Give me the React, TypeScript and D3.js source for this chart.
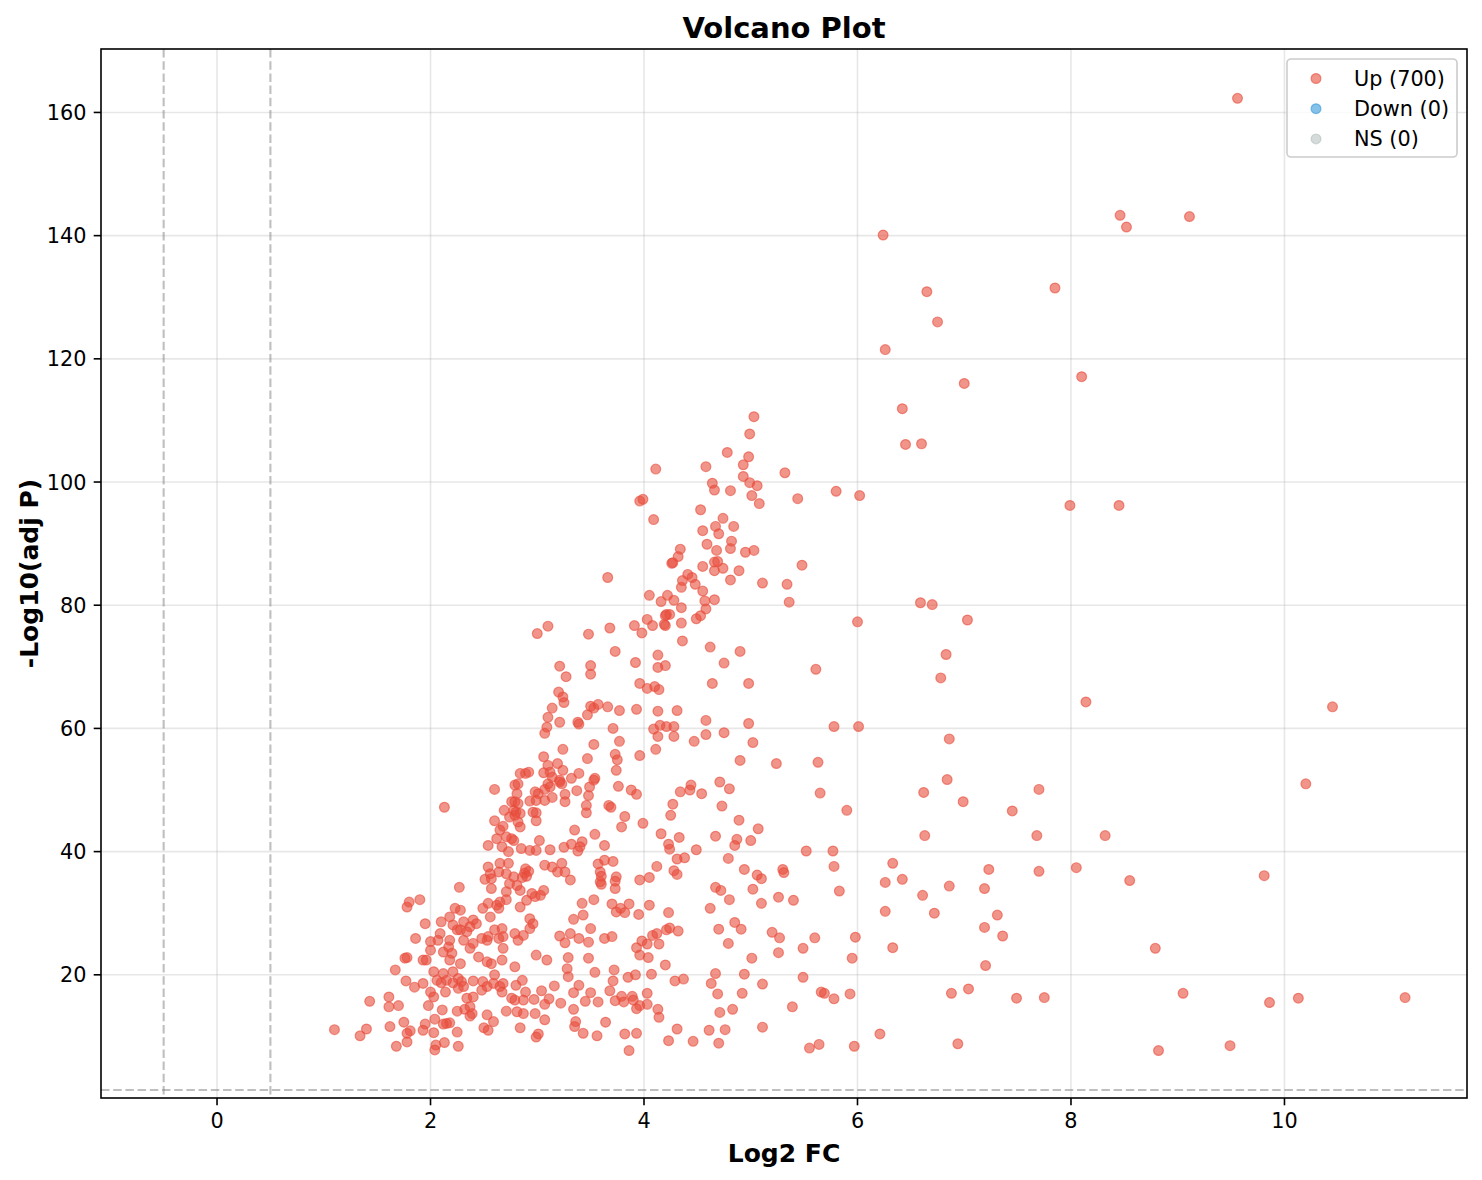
import React, { useMemo } from "react";
import * as d3 from "d3";

// [log2FC, -log10(adj p)], grouped by region
const outerUp: [number, number][] = [
  [9.56, 162.3], [8.46, 143.3], [8.52, 141.4], [9.11, 143.1], [6.24, 140.1],
  [6.65, 130.9], [7.85, 131.5], [6.75, 126.0], [6.26, 121.5], [8.1, 117.1],
  [7.0, 116.0], [6.42, 111.9], [6.45, 106.1], [6.6, 106.2], [6.02, 97.8],
  [5.8, 98.5], [7.99, 96.2], [8.45, 96.2],
  [6.59, 80.4], [6.7, 80.1], [7.03, 77.6], [6.0, 77.3], [6.83, 72.0],
  [6.78, 68.2], [6.01, 60.3], [6.86, 58.3], [6.84, 51.7], [6.62, 49.6],
  [6.99, 48.1], [7.45, 46.6], [5.9, 46.7], [7.7, 50.1], [6.63, 42.6],
  [7.68, 42.6], [6.33, 38.1], [6.26, 35.0], [6.42, 35.5], [6.61, 32.9],
  [6.86, 34.4], [7.23, 37.1], [7.19, 34.0], [7.7, 36.8], [6.26, 30.3],
  [6.72, 30.0], [7.31, 29.7], [7.19, 27.7], [7.36, 26.3], [5.98, 26.1],
  [6.33, 24.4], [5.95, 22.7], [7.2, 21.5], [5.93, 16.9], [6.88, 17.0],
  [7.04, 17.7], [7.49, 16.2], [6.21, 10.4], [5.97, 8.4], [6.94, 8.8],
  [8.14, 64.3], [10.45, 63.5], [10.2, 51.0], [8.32, 42.6], [8.05, 37.4],
  [8.55, 35.3], [9.81, 36.1], [8.79, 24.3], [7.75, 16.3], [9.05, 17.0],
  [9.86, 15.5], [10.13, 16.2], [11.13, 16.3], [8.82, 7.7], [9.49, 8.5],
  [5.61, 69.6], [5.63, 54.5], [5.65, 49.5], [5.78, 60.3],
];

const upperCluster: [number, number][] = [
  [5.03, 110.6], [4.99, 107.8], [4.78, 104.8], [4.98, 104.1], [4.93, 102.8],
  [4.11, 102.1], [4.58, 102.5], [5.32, 101.5], [4.93, 100.9], [4.99, 99.9],
  [5.06, 99.4], [4.64, 99.8], [4.66, 98.7], [4.81, 98.6], [3.96, 96.9],
  [3.99, 97.2], [5.01, 97.8], [5.08, 96.5], [5.44, 97.3], [4.53, 95.5],
  [4.09, 93.9], [4.74, 94.1], [4.84, 92.8], [4.67, 92.8], [4.7, 91.6],
  [4.55, 92.1], [4.82, 90.4], [4.81, 89.2], [4.59, 89.9], [4.68, 88.9],
  [4.95, 88.6], [5.03, 88.9], [4.34, 89.1], [4.32, 87.9], [4.26, 86.8],
  [4.27, 86.9], [4.55, 86.3], [4.66, 87.0], [4.69, 87.1], [4.66, 85.6],
  [4.74, 86.0], [4.89, 85.6], [4.81, 84.1], [5.11, 83.6], [5.34, 83.4],
  [5.48, 86.5], [4.41, 85.0], [4.45, 84.5], [4.36, 84.0], [4.48, 83.4],
  [4.35, 82.9], [4.55, 82.3], [4.05, 81.6], [4.22, 81.6], [4.16, 80.6],
  [4.28, 80.8], [4.57, 80.7], [4.66, 80.9], [5.36, 80.5], [4.35, 79.6],
  [4.58, 79.4], [3.66, 84.5],
  [4.21, 78.5], [4.24, 78.5], [4.2, 78.3], [4.19, 76.9], [4.2, 76.7],
  [4.03, 77.7], [4.08, 76.7], [4.35, 77.1], [4.49, 77.8], [4.53, 78.3],
  [4.36, 74.2], [3.91, 76.7], [3.98, 75.5], [3.68, 76.3], [3.48, 75.3],
  [3.1, 76.6], [3.0, 75.4], [4.62, 73.2], [4.9, 72.5], [3.73, 72.5],
  [4.13, 71.9], [4.75, 70.6], [3.92, 70.7], [4.13, 69.9], [4.2, 70.2],
  [3.21, 70.1], [3.27, 68.4], [3.5, 70.2], [3.5, 68.8], [4.64, 67.3],
  [4.98, 67.3], [3.96, 67.3], [4.03, 66.5], [4.1, 66.8], [4.14, 66.3],
  [3.2, 65.9], [3.24, 65.1], [3.25, 64.2], [3.14, 63.3], [3.1, 61.8],
  [3.21, 61.0], [3.09, 60.2], [3.07, 59.2], [3.5, 63.6], [3.53, 63.3],
  [3.57, 63.9], [3.66, 63.5], [3.47, 62.2], [3.77, 62.9], [3.93, 63.1],
  [3.38, 61.0], [3.39, 60.7], [4.13, 62.8], [4.31, 62.9], [3.71, 60.0],
  [4.09, 59.9], [4.15, 60.5], [4.21, 60.3], [4.28, 60.3], [4.13, 58.7],
  [4.28, 58.7], [4.58, 61.3], [4.98, 60.8], [4.58, 59.0], [4.75, 59.3],
  [4.47, 57.9], [5.02, 57.7], [3.77, 57.9], [3.53, 57.4], [3.24, 56.6],
  [4.11, 56.6], [3.06, 55.4], [3.47, 55.1], [3.73, 55.8], [3.75, 54.9],
  [3.96, 55.6], [4.9, 54.8],
];

const midCluster: [number, number][] = [
  [3.74, 53.2], [5.24, 54.3], [3.76, 50.6], [3.88, 50.0], [3.93, 49.3],
  [4.34, 49.7], [4.44, 50.8], [4.43, 50.0], [4.54, 49.4], [4.71, 51.3],
  [4.8, 50.2], [3.67, 47.5], [3.69, 47.2], [4.27, 47.7], [4.25, 45.9],
  [4.73, 47.4], [3.82, 45.7], [3.79, 44.0], [3.99, 44.6], [4.89, 45.1],
  [5.07, 43.7], [4.16, 42.9], [4.33, 42.3], [4.23, 41.2], [4.24, 40.4],
  [3.63, 41.0], [4.31, 38.8], [4.38, 39.0], [3.63, 38.6], [3.71, 38.4],
  [3.57, 38.0], [4.12, 37.6], [4.28, 36.9], [4.31, 36.3], [4.05, 35.8],
  [3.96, 35.4], [3.74, 35.9], [3.59, 36.7], [3.6, 36.0],
  [3.1, 54.0], [3.19, 54.3], [3.24, 53.2], [2.84, 52.7], [2.89, 52.7],
  [2.92, 52.9], [3.06, 52.8], [3.12, 52.9], [3.14, 52.1], [3.21, 51.6],
  [3.32, 51.9], [3.39, 52.7], [3.54, 51.9], [3.53, 51.6], [2.6, 50.1],
  [2.79, 50.8], [2.82, 51.0], [2.81, 49.4], [2.79, 48.1], [2.82, 47.8],
  [2.98, 49.7], [3.01, 49.4], [3.07, 50.1], [3.1, 51.0], [3.12, 50.5],
  [3.21, 51.3], [3.23, 51.0], [2.93, 48.2], [2.99, 48.3], [3.07, 48.3],
  [3.14, 48.8], [3.26, 49.3], [3.26, 48.1], [3.37, 49.9], [3.49, 50.5],
  [3.48, 49.1], [3.46, 47.5], [3.46, 46.3], [2.69, 46.7], [2.76, 48.1],
  [2.78, 46.7], [2.79, 45.9], [2.8, 46.4], [2.84, 46.2], [2.74, 45.6],
  [2.82, 44.8], [2.84, 44.0], [2.96, 46.4], [2.99, 46.3], [2.99, 45.0],
  [2.6, 45.0], [2.68, 44.1], [2.65, 43.5], [2.62, 42.1], [2.71, 42.4],
  [2.76, 42.1], [2.78, 41.8], [2.54, 41.0], [2.67, 40.8], [2.73, 40.0],
  [2.85, 40.5], [2.93, 40.2], [2.99, 40.2], [3.02, 41.8], [3.12, 40.3],
  [3.25, 40.7], [3.32, 41.2], [3.35, 43.5], [3.4, 40.8], [3.42, 41.6],
  [3.38, 40.1], [3.54, 42.8], [2.13, 47.2], [3.07, 37.8], [3.14, 37.5],
  [3.19, 36.7], [3.23, 38.1], [3.26, 36.7], [3.31, 35.4],
];

const rightLower: [number, number][] = [
  [4.67, 42.5], [4.87, 42.0], [4.85, 41.0], [5.0, 41.8], [4.49, 40.3],
  [5.52, 40.1], [5.77, 40.1], [4.79, 38.9], [4.94, 37.1], [5.06, 36.2],
  [5.1, 35.6], [5.3, 37.1], [5.31, 36.6], [5.78, 37.6], [4.67, 34.2],
  [4.72, 33.7], [5.02, 33.9], [5.83, 33.6], [4.8, 32.2], [5.1, 31.6],
  [5.26, 32.6], [5.4, 32.1], [4.62, 30.8], [4.85, 28.5], [4.7, 27.4],
  [4.91, 27.4], [5.2, 26.9], [5.27, 26.0], [5.6, 26.0], [5.49, 24.3],
  [4.79, 25.1], [5.26, 23.6], [5.01, 22.7], [4.67, 20.2], [4.94, 20.1],
  [5.49, 19.6], [4.63, 18.6], [5.11, 18.5], [4.69, 16.9], [4.92, 17.0],
  [5.66, 17.2], [5.69, 17.0], [5.78, 16.1], [4.71, 13.9], [4.83, 14.4],
  [5.39, 14.8], [4.61, 11.0], [4.76, 11.1], [5.11, 11.5], [4.46, 9.2],
  [4.7, 8.9], [5.55, 8.1], [5.64, 8.7],
];

const lowerCluster: [number, number][] = [
  [3.59, 35.1], [3.6, 34.7], [3.73, 35.2], [3.73, 34.0], [3.42, 31.6],
  [3.53, 32.2], [3.7, 31.5], [3.78, 30.8], [3.82, 30.1], [3.86, 31.5],
  [3.74, 30.2], [4.05, 31.3], [3.95, 29.8], [4.23, 30.1], [3.43, 29.7],
  [3.34, 29.0], [3.5, 27.5], [3.21, 26.3], [3.31, 26.7], [3.26, 25.2],
  [3.39, 25.9], [3.48, 25.3], [3.63, 25.9], [3.7, 26.2], [3.93, 24.4],
  [3.98, 25.5], [4.03, 25.0], [4.08, 26.4], [4.12, 26.7], [4.14, 25.0],
  [4.21, 27.3], [4.24, 27.6], [4.32, 27.1], [3.96, 23.2], [4.04, 22.8],
  [3.29, 22.8], [3.48, 22.7], [4.2, 21.6], [3.28, 21.0], [3.29, 19.7],
  [3.54, 20.4], [3.72, 20.8], [3.85, 19.6], [3.92, 20.0], [4.07, 20.1],
  [4.29, 19.0], [4.37, 19.3], [3.71, 19.0],
  [3.04, 17.4], [3.16, 18.2], [3.39, 18.3], [3.34, 17.1], [3.5, 17.1],
  [3.68, 17.4], [3.79, 16.5], [3.89, 16.5], [4.03, 17.0], [2.97, 16.0],
  [3.07, 15.2], [3.11, 16.1], [3.22, 15.4], [3.45, 15.7], [3.57, 15.6],
  [3.73, 15.8], [3.81, 15.6], [3.9, 15.9], [3.93, 14.5], [3.96, 15.0],
  [4.03, 15.2], [2.98, 13.7], [3.07, 12.7], [3.34, 14.4], [4.13, 14.4],
  [4.14, 13.1], [3.36, 12.4], [3.35, 11.6], [3.64, 12.3], [3.01, 10.4],
  [2.99, 9.9], [3.43, 10.5], [3.56, 10.1], [3.82, 10.4], [3.93, 10.5],
  [4.31, 11.2], [4.23, 9.3], [3.86, 7.7],
];

const leftCluster: [number, number][] = [
  [1.8, 31.8], [1.78, 31.0], [1.86, 25.9], [1.78, 22.8], [1.76, 22.7],
  [1.93, 22.4], [1.67, 20.8],
  [1.77, 19.0], [1.85, 18.0], [1.93, 18.6], [1.43, 15.7], [1.61, 16.4],
  [1.61, 14.8], [1.7, 15.0], [1.1, 11.1], [1.4, 11.2], [1.34, 10.1],
  [1.62, 11.6], [1.75, 12.3], [1.81, 10.9], [1.78, 10.5], [1.78, 9.1],
  [1.68, 8.4], [1.95, 12.0], [1.93, 11.0], [2.03, 10.6], [1.98, 15.0],
  [2.05, 8.6], [2.04, 7.8], [2.13, 9.0], [2.26, 8.4], [2.25, 10.7],
  [2.15, 12.1], [2.18, 12.2], [2.12, 12.0], [2.04, 12.8], [2.11, 14.3],
  [2.25, 14.1], [2.32, 14.4], [2.37, 14.8], [2.4, 16.4], [2.34, 16.2],
  [2.37, 13.3], [2.39, 13.7], [2.53, 13.5], [2.59, 12.4], [2.5, 11.4],
  [2.54, 11.0], [2.71, 14.1], [2.81, 14.0], [2.87, 13.7], [2.76, 16.2],
  [2.79, 15.9], [2.87, 15.9], [2.84, 11.4], [2.65, 18.1], [2.68, 18.6],
  [2.8, 18.3], [2.86, 19.1], [2.89, 17.2],
  [2.03, 20.5], [2.06, 19.1], [2.1, 18.7], [2.15, 19.1], [2.21, 18.7],
  [2.26, 19.4], [2.29, 18.9], [2.26, 17.8], [2.31, 18.1], [2.4, 19.0],
  [2.49, 18.9], [2.48, 17.5], [2.53, 18.1], [2.59, 18.6], [2.6, 20.0],
  [2.67, 17.2], [2.0, 17.2], [2.03, 16.4], [2.12, 20.2], [2.21, 20.5],
  [2.14, 17.2],
  [2.27, 34.2], [2.88, 36.5], [2.9, 36.0], [2.86, 35.8], [2.92, 36.8],
  [2.89, 37.2], [2.54, 37.5], [2.56, 36.4], [2.51, 35.5], [2.57, 35.6],
  [2.64, 36.7], [2.65, 38.1], [2.73, 38.1], [2.71, 36.4], [2.78, 35.9],
  [2.74, 34.8], [2.81, 34.5], [2.57, 34.0], [2.49, 30.8], [2.54, 31.6],
  [2.62, 31.3], [2.65, 31.8], [2.71, 32.2], [2.64, 30.8], [2.56, 29.4],
  [2.23, 30.8], [2.28, 30.5], [2.18, 29.4], [2.1, 28.6], [1.95, 28.3],
  [1.9, 32.2], [2.31, 28.6], [2.4, 28.9], [2.43, 28.3], [2.37, 27.8],
  [2.28, 27.3], [2.34, 27.0], [2.21, 28.1], [2.53, 25.6], [2.6, 27.3],
  [2.67, 27.5], [2.68, 26.2], [2.64, 25.9], [2.54, 26.2], [2.48, 25.9],
  [2.09, 26.7], [2.07, 25.6], [2.0, 25.4], [2.0, 24.0], [2.18, 25.6],
  [2.17, 24.5], [2.2, 23.5], [2.12, 23.7], [2.37, 24.3], [2.4, 25.1],
  [2.31, 25.6], [2.25, 27.3], [2.68, 24.3], [2.79, 26.7], [2.82, 25.6],
  [2.93, 29.1], [2.96, 28.3], [2.93, 27.5], [2.87, 26.4], [2.84, 31.0],
  [2.9, 32.1], [2.98, 32.7], [3.03, 32.9], [3.06, 33.7], [2.84, 33.7],
  [2.95, 33.2], [2.71, 33.5], [2.99, 23.2], [3.09, 22.4], [1.96, 22.4],
  [2.18, 22.4], [2.28, 21.8], [2.45, 22.9], [2.53, 22.1], [2.57, 21.8],
  [2.67, 22.4], [2.79, 21.3],
];

const upGenes = [
  ...outerUp,
  ...upperCluster,
  ...midCluster,
  ...rightLower,
  ...lowerCluster,
  ...leftCluster,
];

const xTicks = [0, 2, 4, 6, 8, 10];
const yTicks = [20, 40, 60, 80, 100, 120, 140, 160];
const fcCutoffs = [-0.5, 0.5];
const pCutoff = -Math.log10(0.05);

const legendItems = [
  { label: "Up (700)", color: "#e74c3c", opacity: 0.6 },
  { label: "Down (0)", color: "#3498db", opacity: 0.6 },
  { label: "NS (0)", color: "#95a5a6", opacity: 0.4 },
];

const W = 1482,
  H = 1180,
  left = 101,
  right = 1467,
  top = 49,
  bottom = 1098;
const font = "'DejaVu Sans', sans-serif";

export default function App() {
  const x = useMemo(
    () => d3.scaleLinear().domain([-1.087, 11.71]).range([left, right]),
    []
  );
  const y = useMemo(
    () => d3.scaleLinear().domain([0, 170.3]).range([bottom, top]),
    []
  );

  return (
    <svg
      width={W}
      height={H}
      style={{ position: "absolute", left: 0, top: 0, background: "#fff" }}
      fontFamily={font}
    >
      <rect x={0} y={0} width={W} height={H} fill="#fff" />

      {/* grid */}
      <g stroke="#b0b0b0" strokeOpacity={0.3} strokeWidth={1.6}>
        {xTicks.map((t) => (
          <line key={"gx" + t} x1={x(t)} x2={x(t)} y1={top} y2={bottom} />
        ))}
        {yTicks.map((t) => (
          <line key={"gy" + t} x1={left} x2={right} y1={y(t)} y2={y(t)} />
        ))}
      </g>

      {/* points */}
      <g>
        {upGenes.map(([fc, p], i) => (
          <circle
            key={i}
            cx={x(fc)}
            cy={y(p)}
            r={4.9}
            fill="#e74c3c"
            fillOpacity={0.6}
            stroke="#e74c3c"
            strokeOpacity={0.6}
            strokeWidth={1.2}
          />
        ))}
      </g>

      {/* threshold lines */}
      <g stroke="#808080" strokeOpacity={0.5} strokeWidth={2.1} strokeDasharray="8.5,3.7">
        {fcCutoffs.map((c) => (
          <line key={"v" + c} x1={x(c)} x2={x(c)} y1={top} y2={bottom} />
        ))}
        <line x1={left} x2={right} y1={y(pCutoff)} y2={y(pCutoff)} />
      </g>

      {/* spines */}
      <rect
        x={left}
        y={top}
        width={right - left}
        height={bottom - top}
        fill="none"
        stroke="#000"
        strokeWidth={1.6}
      />

      {/* ticks */}
      <g fontSize={20.8} fill="#000">
        {xTicks.map((t) => (
          <g key={"xt" + t}>
            <line x1={x(t)} x2={x(t)} y1={bottom} y2={bottom + 7.3} stroke="#000" strokeWidth={1.6} />
            <text x={x(t)} y={bottom + 30} textAnchor="middle">
              {t}
            </text>
          </g>
        ))}
        {yTicks.map((t) => (
          <g key={"yt" + t}>
            <line x1={left - 7.3} x2={left} y1={y(t)} y2={y(t)} stroke="#000" strokeWidth={1.6} />
            <text x={left - 14.6} y={y(t) + 7.6} textAnchor="end">
              {t}
            </text>
          </g>
        ))}
      </g>

      {/* labels */}
      <text x={(left + right) / 2} y={1162} textAnchor="middle" fontSize={25} fontWeight="bold">
        Log2 FC
      </text>
      <text
        transform={`translate(38,${(top + bottom) / 2}) rotate(-90)`}
        textAnchor="middle"
        fontSize={25}
        fontWeight="bold"
      >
        -Log10(adj P)
      </text>
      <text x={(left + right) / 2} y={38} textAnchor="middle" fontSize={29} fontWeight="bold">
        Volcano Plot
      </text>

      {/* legend */}
      <g>
        <rect
          x={1287}
          y={59}
          width={170}
          height={98}
          rx={4}
          fill="#fff"
          fillOpacity={0.8}
          stroke="#cccccc"
          strokeWidth={1.6}
        />
        {legendItems.map((d, i) => (
          <g key={d.label}>
            <circle
              cx={1316}
              cy={78.5 + i * 30.2}
              r={4.9}
              fill={d.color}
              fillOpacity={d.opacity}
              stroke={d.color}
              strokeOpacity={d.opacity}
              strokeWidth={1.2}
            />
            <text x={1354} y={78.5 + i * 30.2 + 7.5} fontSize={20.8}>
              {d.label}
            </text>
          </g>
        ))}
      </g>
    </svg>
  );
}
